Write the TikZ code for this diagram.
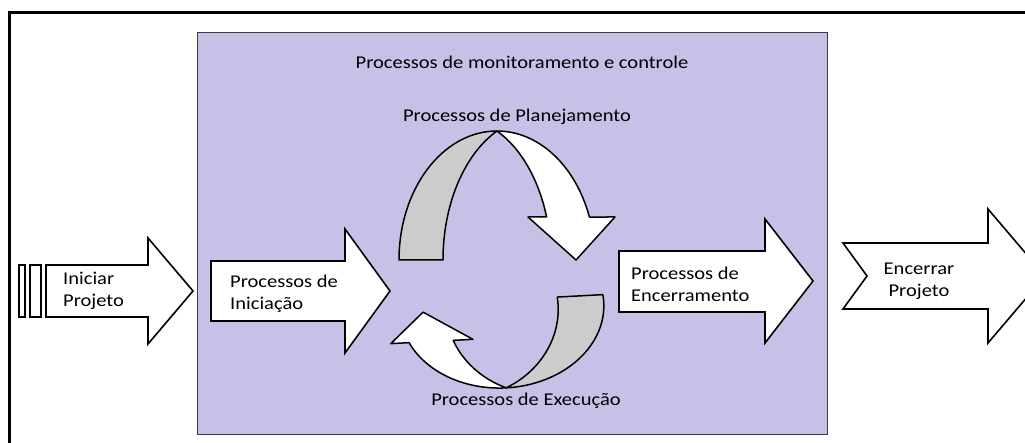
\documentclass[tikz,border=0pt]{standalone}
\usepackage{fontspec}
\setmainfont{Carlito}[FakeStretch=1.14]
\definecolor{lav}{RGB}{200,192,230}
\definecolor{ribbon}{RGB}{204,204,204}
\definecolor{boxline}{RGB}{60,60,60}
\begin{document}
\begin{tikzpicture}[x=1pt,y=1pt,
  lbl/.style={inner sep=0pt,font=\fontsize{18}{22}\selectfont,text=black},
  blockarrow/.style={draw=black,fill=white,line width=1.6pt,line join=miter},
  ribbonline/.style={draw=black,line width=1.5pt,line join=round}]
\useasboundingbox (0,0) rectangle (1025,442);
\clip (0,0) rectangle (1025,442);
% outer frame (only top and left visible)
\draw[line width=3pt,black] (9,-10) -- (9,429) -- (1040,429);
% monitoring box
\node[draw=boxline,fill=lav,line width=1.4pt,minimum width=630pt,minimum height=402pt,inner sep=0pt,anchor=south west] (mon) at (197,7) {};
\node[lbl] (montitle) at (522,380) {Processos de monitoramento e controle};
% Iniciar Projeto striped arrow
\draw[blockarrow] (19,125) rectangle (25,177);
\draw[blockarrow] (30,125) rectangle (41,177);
\draw[blockarrow] (46,177) -- (148,177) -- (148,204) -- (193,151) -- (148,98) -- (148,125) -- (46,125) -- cycle;
\node[lbl,anchor=west,align=left] (iniciar) at (63,151) {Iniciar\\Projeto};
% Processos de Iniciacao
\draw[blockarrow] (211,181) -- (345,181) -- (345,213) -- (390,151) -- (345,89) -- (345,121) -- (211,121) -- cycle;
\node[lbl,anchor=west,align=left] (inic) at (230,148) {Processos de\\Iniciação};
% Processos de Encerramento
\draw[blockarrow] (619,191) -- (765,191) -- (765,223) -- (813,161) -- (765,99) -- (765,130) -- (619,130) -- cycle;
\node[lbl,anchor=west,align=left] (encp) at (631,158) {Processos de\\Encerramento};
% Encerrar Projeto notched arrow
\draw[blockarrow] (843,199) -- (988,199) -- (988,233) -- (1045,166) -- (988,99) -- (988,133) -- (843,133) -- (867,166) -- cycle;
\node[lbl,align=center] (encerrar) at (919,161) {Encerrar\\Projeto};
% upper curved arrow (Planejamento)
\begin{scope}[shift={(497,182)}]
  \path[ribbonline,fill=ribbon] (-98,0) arc[start angle=180,end angle=90,x radius=98,y radius=129]
    arc[start angle=115.18,end angle=180,x radius=94,y radius=142.5] -- cycle;
  \path[ribbonline,fill=white] (0,129) arc[start angle=90,end angle=19.47,x radius=98,y radius=129]
    -- (118,43) -- (79,0) -- (31,43) -- (49.6,43)
    arc[start angle=17.56,end angle=64.82,x radius=94,y radius=142.5] -- cycle;
\end{scope}
\node[lbl] (plan) at (517,325) {Processos de Planejamento};
% lower curved arrow (Execucao)
\begin{scope}[shift={(502,134)},rotate=183,xscale=1.04,yscale=0.62]
  \path[ribbonline,fill=ribbon] (-97.5,-13) arc[start angle=185.78,end angle=90,x radius=98,y radius=129]
    arc[start angle=115.18,end angle=185.23,x radius=94,y radius=142.5] -- cycle;
  \path[ribbonline,fill=white] (0,129) arc[start angle=90,end angle=21.84,x radius=98,y radius=129]
    -- (108.6,48) -- (76,0) -- (29.5,48) -- (48.5,48)
    arc[start angle=19.69,end angle=64.82,x radius=94,y radius=142.5] -- cycle;
\end{scope}
\node[lbl] (exec) at (526,41) {Processos de Execução};
\end{tikzpicture}
\end{document}
